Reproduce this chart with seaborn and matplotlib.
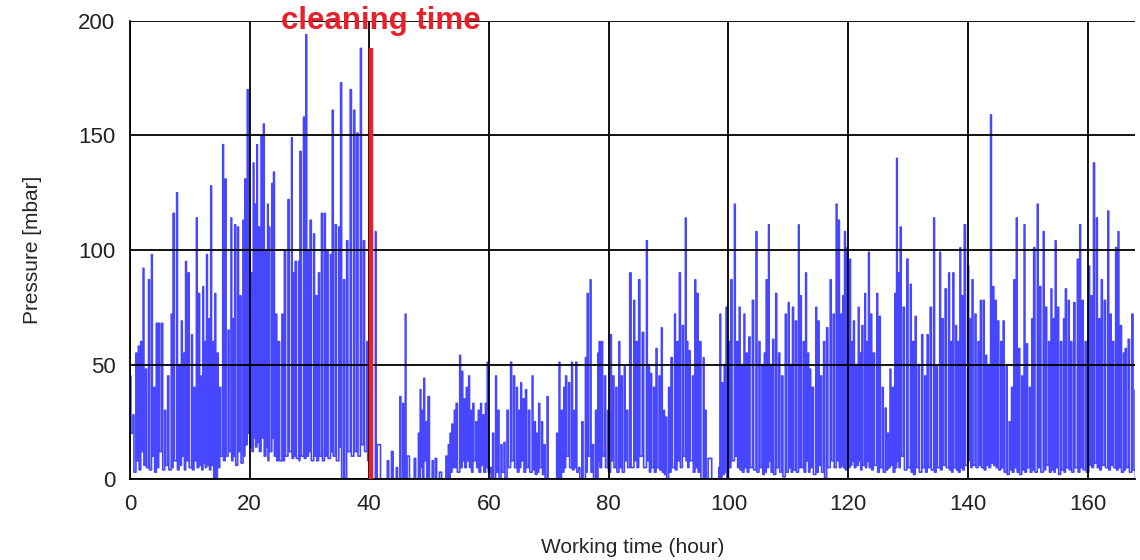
import numpy as np
import pandas as pd
import seaborn as sns
import matplotlib.pyplot as plt

# spikes: hour of the spike, its top, and the low it falls back to
spike_hour = [
    0.0, 0.5, 1.0, 1.4, 1.8, 2.2, 2.6, 3.1, 3.6, 4.0, 4.4, 4.8, 5.3, 5.8, 6.3, 6.9, 7.2, 7.8, 8.2, 8.6,
    9.0, 9.3, 9.7, 10.3, 10.7, 11.1, 11.5, 11.9, 12.2, 12.5, 12.8, 13.2, 13.5, 13.9, 14.2, 14.6, 15.0, 15.5, 15.9, 16.4,
    16.9, 17.2, 17.5, 18.0, 18.4, 18.9, 19.2, 19.6, 20.0, 20.3, 20.6, 20.9, 21.2, 21.5, 21.9, 22.3, 22.7, 23.0, 23.2, 23.7,
    24.0, 24.4, 24.8, 25.4, 25.8, 26.4, 27.0, 27.3, 27.6, 28.2, 28.4, 29.0, 29.4, 29.8, 30.1, 30.7, 31.1, 31.5, 32.0, 32.5,
    32.9, 33.5, 33.8, 34.3, 34.9, 35.2, 35.7, 36.2, 36.8, 37.4, 37.9, 38.5, 39.0, 39.6, 40.0, 41.0, 41.3,
    43.0, 43.7, 44.5, 45.1, 45.6, 46.0, 46.3, 47.5, 48.2, 48.5, 48.8, 49.1, 49.5, 49.8, 50.5, 51.0, 51.7, 52.8, 53.2, 53.5,
    53.8, 54.2, 54.5, 55.1, 55.5, 55.8, 56.2, 56.6, 57.0, 57.3, 57.8, 58.2, 58.6, 59.0, 59.4, 59.7, 60.2, 60.6, 61.1, 61.5,
    62.0, 62.5, 63.0, 63.6, 64.1, 64.6, 65.0, 65.3, 65.7, 66.1, 66.6, 67.2, 67.6, 68.0, 68.3, 68.8, 69.2, 69.7, 70.2, 71.3,
    71.7, 72.1, 72.5, 72.8, 73.3, 73.8, 74.2, 74.5, 75.0, 75.5, 76.1, 76.4, 76.9, 77.3, 77.8, 78.2, 78.4, 78.8, 79.3, 79.8,
    80.3, 80.7, 81.2, 81.7, 82.1, 82.6, 83.0, 83.5, 84.2, 84.6, 85.0, 85.6, 86.3, 86.7, 87.0, 87.5, 87.9, 88.4, 88.8, 89.2,
    89.5, 90.0, 90.4, 91.0, 91.4, 91.8, 92.3, 92.8, 93.1, 93.4, 94.0, 94.4, 94.8, 95.2, 95.8, 96.1, 96.6, 98.4, 98.6, 98.9,
    99.3, 99.6, 100.0, 100.4, 101.0, 101.4, 101.8, 102.2, 102.6, 103.0, 103.4, 104.0, 104.6, 105.1, 105.6, 106.0, 106.3, 106.7, 107.0, 107.4,
    107.9, 108.4, 108.9, 109.5, 110.0, 110.4, 110.7, 111.2, 111.7, 112.0, 112.5, 112.9, 113.3, 113.6, 114.0, 114.6, 115.0, 115.4, 115.9, 116.4,
    117.0, 117.5, 118.0, 118.4, 118.8, 119.1, 119.4, 119.8, 120.0, 120.3, 120.6, 120.9, 121.3, 121.7, 122.0, 122.3, 122.8, 123.1, 123.4, 123.8,
    124.2, 124.8, 125.2, 125.7, 126.2, 126.6, 127.0, 127.4, 127.8, 128.1, 128.4, 128.7, 129.2, 129.8, 130.4, 130.8, 131.2, 131.7, 132.3, 132.8,
    133.2, 133.7, 134.3, 134.7, 135.3, 135.7, 136.2, 136.8, 137.2, 137.5, 138.0, 138.3, 138.7, 139.0, 139.4, 140.0, 140.4, 140.7, 141.2, 141.7,
    142.1, 142.6, 143.0, 143.4, 143.8, 144.2, 144.6, 145.0, 145.5, 145.9, 146.4, 146.9, 147.3, 147.7, 148.1, 148.5, 149.0, 149.4, 149.8, 150.3,
    150.7, 151.0, 151.6, 152.0, 152.6, 153.0, 153.5, 153.9, 154.3, 154.6, 155.0, 155.5, 156.0, 156.3, 156.8, 157.2, 157.7, 158.3, 158.7, 159.1,
    159.6, 160.2, 160.6, 161.0, 161.5, 161.9, 162.3, 162.8, 163.4, 163.8, 164.2, 164.7, 165.1, 165.5, 166.0, 166.3, 166.8, 167.4, 168.0,
]
spike_top = [
    45, 28, 55, 58, 60, 92, 48, 87, 98, 40, 68, 68, 68, 30, 45, 72, 116, 125, 50, 69,
    55, 95, 90, 63, 40, 114, 81, 45, 84, 60, 98, 70, 128, 60, 81, 55, 40, 146, 131, 65,
    114, 70, 111, 110, 80, 113, 131, 170, 100, 90, 138, 120, 146, 110, 150, 155, 100, 120, 110, 129,
    134, 72, 60, 72, 100, 122, 149, 90, 95, 95, 143, 158, 194, 100, 113, 107, 80, 90, 116, 116,
    100, 98, 161, 111, 110, 173, 87, 104, 170, 161, 151, 188, 104, 60, 40, 108, 15,
    8, 12, 5, 36, 33, 72, 10, 9, 20, 39, 30, 44, 25, 36, 8, 9, 3, 10, 15, 20,
    24, 30, 33, 54, 47, 35, 40, 45, 30, 33, 25, 30, 33, 28, 33, 51, 5, 20, 45, 30,
    15, 16, 30, 51, 45, 40, 30, 42, 35, 39, 30, 45, 25, 20, 33, 25, 15, 36, 0, 20,
    51, 30, 40, 45, 42, 51, 30, 51, 5, 25, 53, 81, 87, 15, 30, 55, 60, 60, 45, 30,
    63, 45, 40, 60, 45, 49, 30, 90, 78, 60, 87, 64, 104, 50, 46, 40, 57, 45, 66, 30,
    27, 40, 53, 72, 60, 90, 67, 114, 60, 56, 45, 87, 81, 60, 53, 30, 9, 5, 72, 42,
    50, 75, 60, 87, 120, 60, 75, 50, 72, 55, 62, 78, 108, 60, 50, 55, 87, 111, 50, 61,
    81, 55, 45, 72, 77, 50, 75, 69, 111, 80, 60, 90, 55, 48, 40, 75, 69, 45, 60, 66,
    87, 72, 120, 113, 72, 80, 108, 101, 60, 96, 60, 69, 50, 75, 55, 67, 81, 60, 99, 72,
    55, 81, 71, 40, 31, 20, 48, 40, 81, 140, 90, 110, 75, 96, 85, 60, 71, 50, 63, 45,
    63, 75, 114, 49, 99, 70, 83, 90, 60, 90, 67, 60, 101, 80, 111, 93, 70, 87, 72, 60,
    78, 78, 54, 50, 159, 84, 78, 69, 60, 69, 49, 25, 40, 87, 114, 57, 45, 111, 59, 40,
    70, 101, 120, 84, 108, 75, 60, 83, 70, 104, 75, 60, 70, 83, 78, 60, 77, 96, 111, 78,
    60, 93, 80, 138, 114, 70, 87, 78, 117, 72, 60, 101, 108, 67, 55, 57, 61, 72, 39,
]
spike_base = [
    20, 3, 8, 4, 12, 6, 5, 4, 10, 3, 5, 12, 4, 6, 4, 5, 8, 4, 6, 10,
    4, 8, 5, 4, 8, 5, 6, 4, 7, 5, 6, 4, 6, 0, 0, 5, 10, 8, 10, 12,
    8, 10, 6, 12, 7, 10, 15, 20, 14, 12, 18, 14, 16, 12, 18, 10, 14, 8, 12, 18,
    10, 8, 8, 8, 10, 12, 9, 10, 9, 8, 10, 9, 10, 12, 8, 10, 8, 10, 8, 10,
    9, 12, 10, 8, 14, 0, 0, 12, 10, 12, 10, 15, 12, 8, 0, 0, 0,
    0, 0, 0, 0, 0, 0, 0, 0, 0, 5, 0, 8, 0, 0, 0, 0, 0, 0, 0, 3,
    5, 5, 3, 5, 8, 5, 8, 5, 3, 8, 5, 3, 6, 3, 5, 3, 0, 0, 3, 0,
    3, 0, 5, 8, 5, 3, 5, 8, 3, 5, 3, 4, 2, 3, 5, 2, 0, 0, 0, 0,
    0, 3, 5, 10, 5, 4, 5, 3, 0, 0, 3, 10, 3, 0, 0, 8, 5, 10, 5, 3,
    8, 5, 3, 5, 3, 8, 5, 5, 8, 5, 10, 5, 8, 3, 5, 3, 5, 4, 3, 2,
    0, 3, 5, 4, 8, 5, 10, 8, 5, 8, 3, 5, 3, 0, 0, 0, 0, 0, 0, 2,
    3, 0, 5, 8, 10, 5, 4, 3, 5, 3, 5, 4, 3, 5, 2, 3, 5, 8, 3, 2,
    5, 3, 1, 3, 5, 3, 4, 3, 5, 5, 3, 8, 3, 5, 2, 3, 6, 3, 0, 5,
    8, 5, 8, 5, 6, 5, 4, 6, 5, 6, 8, 5, 6, 8, 4, 6, 5, 8, 5, 4,
    6, 3, 5, 3, 4, 5, 6, 3, 5, 8, 5, 10, 4, 5, 3, 2, 5, 3, 5, 3,
    5, 4, 3, 5, 4, 6, 5, 4, 3, 5, 4, 3, 5, 4, 6, 8, 5, 6, 5, 6,
    5, 4, 6, 5, 7, 6, 5, 4, 5, 3, 2, 4, 3, 5, 3, 2, 4, 3, 5, 3,
    4, 3, 5, 3, 4, 6, 3, 4, 3, 5, 2, 4, 3, 5, 4, 3, 5, 3, 5, 4,
    3, 6, 5, 7, 5, 4, 6, 5, 4, 6, 5, 4, 5, 3, 4, 5, 3, 4, 0,
]
cleaning_hour = 40.3
cleaning_top = 188

# stepped pulses: each spike top, held for a third of the gap, then its low
h = np.array(spike_hour)
drop = np.append(h[:-1] + (h[1:] - h[:-1]) / 3, h[-1])
df = pd.DataFrame({
    "hour": np.column_stack([h, drop]).ravel(),
    "pressure": np.column_stack([spike_top, spike_base]).ravel(),
})

sns.set_style("white")
plt.rcParams["font.family"] = ["Liberation Sans", "DejaVu Sans"]

fig = plt.figure(figsize=(11.4, 5.6), dpi=100)
ax = fig.add_axes([0.114, 0.1446, 0.882, 0.818])

sns.lineplot(data=df, x="hour", y="pressure", sort=False, estimator=None,
             drawstyle="steps-post", color="#0000ff", alpha=0.72, linewidth=1.2, ax=ax)
ax.vlines(cleaning_hour, 0, cleaning_top, color="#e8202a", linewidth=3.2, zorder=5)
ax.text(42, 200, "cleaning time", color="#e8202a", fontsize=22.5,
        fontweight="bold", ha="center", va="center", zorder=6)

ax.set_xlim(0, 168)
ax.set_ylim(0, 200)
ax.set_xticks(range(0, 161, 20))
ax.set_yticks(range(0, 201, 50))
ax.grid(True, color="black", linewidth=1.3, zorder=3)
ax.set_axisbelow(False)
for side in ["top", "right"]:
    ax.spines[side].set_visible(False)
for side in ["left", "bottom"]:
    ax.spines[side].set_color("black")
    ax.spines[side].set_linewidth(1.3)
ax.tick_params(axis="both", direction="out", length=7, width=1.3, color="black",
               labelsize=16, labelcolor="#222222")
ax.set_xlabel("Working time (hour)", fontsize=15, labelpad=17)
ax.set_ylabel("Pressure [mbar]", fontsize=15, labelpad=26)

fig.savefig("out.png", dpi=100)
